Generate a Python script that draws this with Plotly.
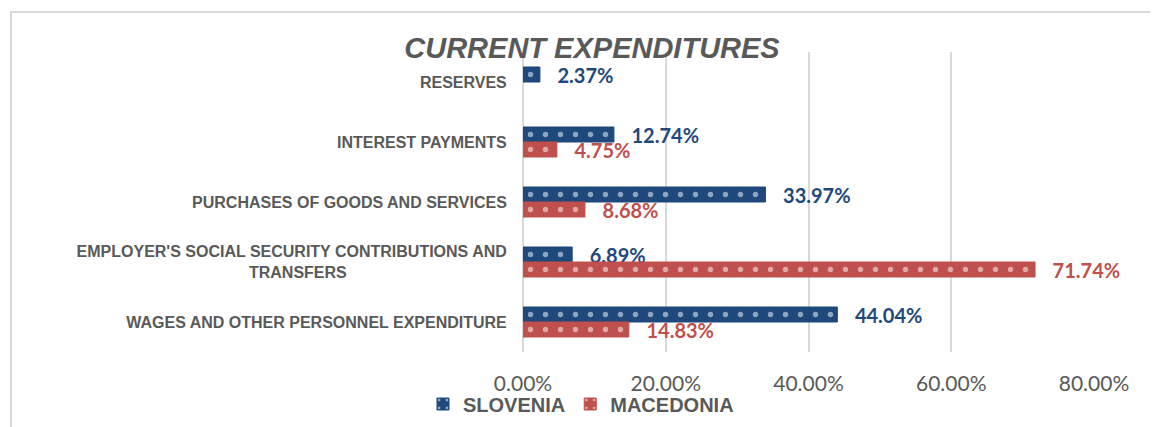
import plotly.graph_objects as go

# categories (top to bottom) and shares of current expenditures
categories = [
    "RESERVES",
    "INTEREST PAYMENTS",
    "PURCHASES OF GOODS AND SERVICES",
    "EMPLOYER'S SOCIAL SECURITY CONTRIBUTIONS AND<br>TRANSFERS" + "\u00a0" * 36,
    "WAGES AND OTHER PERSONNEL EXPENDITURE",
]
slovenia = [2.37, 12.74, 33.97, 6.89, 44.04]
macedonia = [None, 4.75, 8.68, 71.74, 14.83]
x_ticks = [0, 20, 40, 60, 80]
x_tick_labels = ["0.00%", "20.00%", "40.00%", "60.00%", "80.00%"]

BLUE = "#1F497D"
RED = "#C0504D"
GRAY = "#595959"
GRID = "#D9D9D9"

W, H = 1158, 427
OFF = 8  # page body margin
L, R, T, B = 523 - OFF, W - (1094 - OFF), 52 - OFF, H - (352 - OFF)

fig = go.Figure()

for name, vals, col in [("SLOVENIA", slovenia, BLUE), ("MACEDONIA", macedonia, RED)]:
    fig.add_trace(go.Bar(
        name=name,
        y=categories,
        x=vals,
        orientation="h",
        marker=dict(
            color=col,
            line=dict(color=col, width=1),
            pattern=dict(shape=".", fgcolor="white", bgcolor=col, size=15, solidity=0.1),
        ),
        texttemplate="\u00a0\u00a0\u00a0%{x:.2f}%",
        textposition="outside",
        constraintext="none",
        cliponaxis=False,
        textfont=dict(family="Lato", size=20, color=col, weight="bold"),
        hoverinfo="x+name",
    ))

# helpers: screen pixel -> paper coords
pw, ph = W - L - R, H - T - B
def px_x(p):
    return (p - OFF - L) / pw
def px_y(p):
    return (H - B - (p - OFF)) / ph

# outer chart frame (top and left edges)
fig.add_shape(type="line", xref="paper", yref="paper",
              x0=px_x(10), x1=px_x(W + OFF), y0=px_y(12), y1=px_y(12),
              line=dict(color=GRID, width=2))
fig.add_shape(type="line", xref="paper", yref="paper",
              x0=px_x(11), x1=px_x(11), y0=px_y(12), y1=px_y(H + OFF),
              line=dict(color=GRID, width=2))

fig.update_layout(
    width=W, height=H,
    margin=dict(l=L, r=R, t=T, b=B, autoexpand=False),
    paper_bgcolor="white",
    plot_bgcolor="white",
    barmode="group",
    bargap=0.5,
    bargroupgap=0,
    title=dict(
        text="<b><i>CURRENT EXPENDITURES</i></b>",
        x=(592 - OFF) / W, xref="container", xanchor="center",
        y=1 - (48 - OFF) / H, yref="container", yanchor="middle",
        font=dict(family="Liberation Sans, Arial", size=29, color=GRAY),
    ),
    xaxis=dict(
        range=[0, 80],
        tickvals=x_ticks,
        ticktext=x_tick_labels,
        showgrid=True, gridcolor=GRID, gridwidth=2,
        zeroline=True, zerolinecolor=GRID, zerolinewidth=2,
        showline=False,
        ticks="outside", ticklen=13, tickcolor="rgba(0,0,0,0)",
        tickfont=dict(family="Lato", size=21, color=GRAY),
        automargin=False,
        fixedrange=True,
    ),
    yaxis=dict(
        autorange="reversed",
        showgrid=False,
        ticks="outside", ticklen=12, tickcolor="rgba(0,0,0,0)",
        tickfont=dict(family="Liberation Sans, Arial", size=16, color=GRAY, weight="bold"),
        automargin=False,
        fixedrange=True,
    ),
    legend=dict(
        orientation="h",
        x=px_x(423), xanchor="left",
        y=px_y(404), yanchor="middle",
        font=dict(family="Liberation Sans, Arial", size=20, color=GRAY, weight="bold"),
        itemwidth=30,
        bgcolor="rgba(0,0,0,0)",
    ),
    showlegend=True,
)

fig.write_html("out.html")
